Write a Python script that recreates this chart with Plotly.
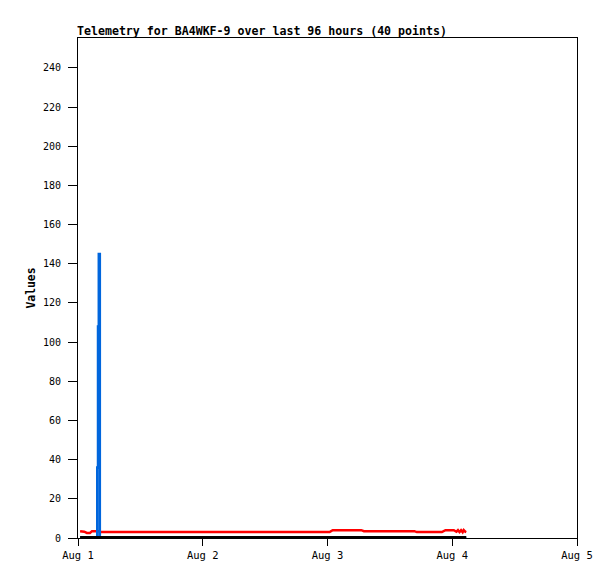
import plotly.graph_objects as go
from datetime import datetime, timedelta

base = datetime(2024, 8, 1)

# hours since Aug 1 00:00 for each of the 40 samples
hours = [0.4, 0.8, 1.2, 1.7, 2.3, 2.7, 3.2, 3.5, 3.7, 3.85,
         4.0, 4.2, 8.0, 14.0, 20.0, 26.0, 32.0, 38.0, 44.0, 48.4,
         49.0, 52.0, 54.5, 55.0, 58.0, 61.0, 64.7, 65.2, 68.0, 70.0,
         70.7, 72.3, 72.8, 73.1, 73.4, 73.7, 74.0, 74.2, 74.5, 74.7]

red = [3.5, 3.5, 3.2, 2.6, 2.6, 3.5, 3.6, 3.5, 3.5, 3.5,
       3.5, 3.0, 3.0, 3.0, 3.0, 3.0, 3.0, 3.0, 3.0, 3.0,
       4.0, 4.0, 4.0, 3.5, 3.5, 3.5, 3.5, 3.0, 3.0, 3.0,
       4.0, 4.0, 3.2, 4.0, 3.0, 4.0, 3.0, 4.0, 3.2, 3.0]

blue = [0, 0, 0, 0, 0, 0, 0, 0, 36, 108,
        145, 0, 0, 0, 0, 0, 0, 0, 0, 0,
        0, 0, 0, 0, 0, 0, 0, 0, 0, 0,
        0, 0, 0, 0, 0, 0, 0, 0, 0, 0]

black = [0] * 40

times = [base + timedelta(hours=h) for h in hours]

x_ticks = [base + timedelta(days=d) for d in range(5)]
x_tick_labels = ["Aug 1", "Aug 2", "Aug 3", "Aug 4", "Aug 5"]
y_ticks = list(range(0, 241, 20))

font_family = "DejaVu Sans Mono, Liberation Mono, monospace"

fig = go.Figure()
fig.add_trace(go.Scatter(x=times, y=red, mode="lines",
                         line=dict(color="#ff0000", width=2.5), showlegend=False))
fig.add_trace(go.Scatter(x=times, y=blue, mode="lines",
                         line=dict(color="#0066dd", width=2.5, shape="hv"), showlegend=False))
fig.add_trace(go.Scatter(x=times, y=black, mode="lines",
                         line=dict(color="#000000", width=4), showlegend=False))

fig.update_layout(
    width=615, height=579,
    margin=dict(l=70, r=46, t=30, b=49),
    paper_bgcolor="white", plot_bgcolor="white",
    font=dict(family=font_family, size=10, color="black"),
    title=dict(text="<b>Telemetry for BA4WKF-9 over last 96 hours (40 points)</b>",
               x=69 / 615, xanchor="left", y=1 - 23 / 579, yanchor="middle",
               font=dict(family=font_family, size=11.6, color="black")),
    xaxis=dict(range=[x_ticks[0], x_ticks[-1]], tickvals=x_ticks, ticktext=x_tick_labels,
               showgrid=False, zeroline=False, showline=True, linecolor="black",
               linewidth=1, mirror=True, ticks="outside", ticklen=7, tickcolor="black",
               tickfont=dict(family=font_family, size=10.5)),
    yaxis=dict(range=[0, 255.3], tickvals=y_ticks,
               showgrid=False, zeroline=False, showline=True, linecolor="black",
               linewidth=1, mirror=True, ticks="outside", ticklen=9, tickcolor="black",
               ticklabelstandoff=5,
               tickfont=dict(family=font_family, size=10),
               title=dict(text="<b>Values</b>", standoff=4,
                          font=dict(family=font_family, size=11.4))),
)

fig.write_html("out.html")
